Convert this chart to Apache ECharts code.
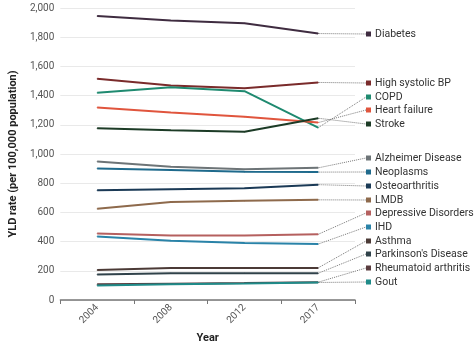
<!DOCTYPE html>
<html>
<head>
<meta charset="utf-8">
<script src="https://cdn.jsdelivr.net/npm/echarts@6/dist/echarts.min.js"></script>
<style>
  html, body { margin: 0; padding: 0; background: #fff; }
  #chart { width: 474px; height: 352px; }
</style>
</head>
<body>
<div id="chart"></div>
<script>
const years = ['2004', '2008', '2012', '2017'];
const yTicks = [0, 200, 400, 600, 800, 1000, 1200, 1400, 1600, 1800, 2000];

const diabetes = [1945, 1915, 1895, 1825];
const highBP = [1515, 1470, 1450, 1490];
const copd = [1420, 1457, 1430, 1180];
const heartFailure = [1318, 1285, 1255, 1215];
const stroke = [1177, 1163, 1153, 1245];
const alzheimer = [948, 912, 895, 905];
const neoplasms = [900, 890, 878, 876];
const osteoarthritis = [752, 758, 765, 790];
const lmdb = [625, 672, 680, 686];
const depressive = [455, 442, 442, 450];
const ihd = [435, 405, 390, 383];
const asthma = [205, 220, 220, 220];
const parkinsons = [175, 183, 183, 183];
const rheumatoid = [108, 112, 116, 122];
const gout = [100, 108, 113, 120];

const names = ['Diabetes', 'High systolic BP', 'COPD', 'Heart failure', 'Stroke',
  'Alzheimer Disease', 'Neoplasms', 'Osteoarthritis', 'LMDB', 'Depressive Disorders',
  'IHD', 'Asthma', "Parkinson's Disease", 'Rheumatoid arthritis', 'Gout'];
const values = [diabetes, highBP, copd, heartFailure, stroke, alzheimer, neoplasms,
  osteoarthritis, lmdb, depressive, ihd, asthma, parkinsons, rheumatoid, gout];
const colors = ['#3f2c40', '#7a2b2b', '#1f8a70', '#e0553d', '#1c3b26', '#6d7477',
  '#1f6a8c', '#1b3a56', '#8e6a4c', '#b5605f', '#2a83a8', '#4b3a36', '#30424a',
  '#5a3c3f', '#1f8b89'];
// pixel rows of the end labels on the right
const labelRows = [34, 83, 97, 110, 124, 158, 172, 186, 200, 213, 227, 241, 254, 268, 282];

const chart = echarts.init(document.getElementById('chart'));

const series = names.map((name, i) => ({
  name: name,
  type: 'line',
  data: values[i].map((v, j) => j === years.length - 1
    ? { value: v, label: { show: true } }
    : v),
  symbol: 'circle',
  symbolSize: 1,
  lineStyle: { width: 2, color: colors[i] },
  itemStyle: { color: colors[i] },
  label: {
    show: false,
    formatter: '{sq|}{t|' + name + '}',
    rich: {
      sq: { width: 5, height: 5, backgroundColor: colors[i] },
      t: { fontSize: 10.5, color: '#333', padding: [0, 0, 0, 4], fontFamily: 'Roboto' }
    }
  },
  labelLine: {
    show: true,
    lineStyle: { type: 'dotted', color: '#777', width: 1 }
  },
  labelLayout: () => ({ x: 366, y: labelRows[i], align: 'left', verticalAlign: 'middle' }),
  emphasis: { disabled: true },
  z: 2 + i
}));

const option = {
  animation: false,
  textStyle: { fontFamily: 'Roboto' },
  grid: { left: 48, right: 119, top: 8, bottom: 52 },
  xAxis: {
    type: 'category',
    data: years,
    boundaryGap: true,
    name: 'Year',
    nameLocation: 'middle',
    nameGap: 33,
    nameTextStyle: { fontWeight: 'bold', fontSize: 11, color: '#222' },
    axisLine: { lineStyle: { color: '#777', width: 1.5 } },
    axisTick: { show: true, length: 4, lineStyle: { color: '#777' } },
    axisLabel: { rotate: 45, fontSize: 10, color: '#555', margin: 6 }
  },
  yAxis: {
    type: 'value',
    min: 0,
    max: 2000,
    interval: 200,
    name: 'YLD rate (per 100,000 population)',
    nameLocation: 'middle',
    nameGap: 36,
    nameTextStyle: { fontWeight: 'bold', fontSize: 11, color: '#222' },
    axisLine: { show: false },
    axisTick: { show: false },
    axisLabel: {
      fontSize: 10, color: '#555', margin: 6,
      formatter: v => yTicks.includes(v) ? v.toLocaleString('en-US') : ''
    },
    splitLine: { lineStyle: { color: '#e9e9e9' } }
  },
  series: series
};

chart.setOption(option);
</script>
</body>
</html>
